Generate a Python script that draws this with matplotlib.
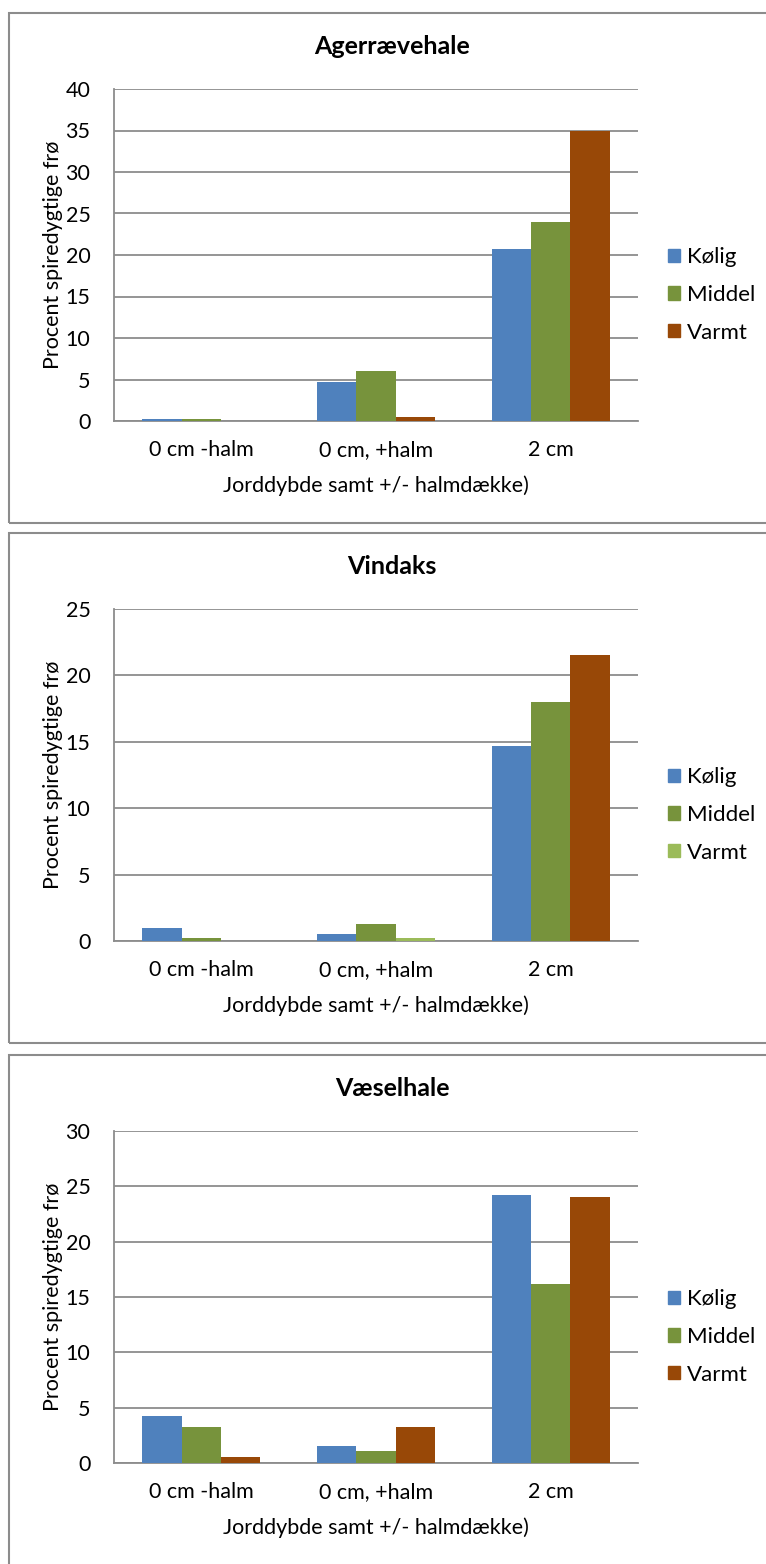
import numpy as np
import matplotlib.pyplot as plt
from matplotlib.patches import Rectangle

plt.rcParams['font.family'] = ['Lato', 'DejaVu Sans']

# Categories and series
categories = ['0 cm -halm', '0 cm, +halm', '2 cm']
series_names = ['Kølig', 'Middel', 'Varmt']
xlabel = 'Jorddybde samt +/- halmdække)'
ylabel = 'Procent spiredygtige frø'

# Agerrævehale
ager_kolig = [0.3, 4.75, 20.7]
ager_middel = [0.25, 6.0, 24.0]
ager_varmt = [0.0, 0.5, 35.0]

# Vindaks
vind_kolig = [1.0, 0.5, 14.7]
vind_middel = [0.25, 1.3, 18.0]
vind_varmt = [0.0, 0.25, 21.5]

# Væselhale
vaes_kolig = [4.25, 1.55, 24.25]
vaes_middel = [3.25, 1.05, 16.2]
vaes_varmt = [0.55, 3.25, 24.0]

BLUE = '#4F81BD'
GREEN = '#77933C'
BROWN = '#984807'
LIGHT_GREEN = '#9BBB59'
GRID = '#8C8C8C'

W, H = 766, 1564
fig = plt.figure(figsize=(W / 100, H / 100), dpi=100)


def px_box(left, top, right, bottom):
    return [left / W, 1 - bottom / H, (right - left) / W, (bottom - top) / H]


def draw_panel(top, title, kolig, middel, varmt, ymax, varmt_colors, varmt_legend):
    # outer chart frame
    fig.patches.append(Rectangle((9 / W, 1 - (top + 510) / H), 800 / W, 510 / H,
                                 transform=fig.transFigure, fill=False,
                                 edgecolor=GRID, linewidth=1.5))
    ax = fig.add_axes(px_box(114, top + 76, 638, top + 408))
    x = np.arange(len(categories))
    w = 0.225
    ax.bar(x - w, kolig, w, color=BLUE, zorder=3)
    ax.bar(x, middel, w, color=GREEN, zorder=3)
    ax.bar(x + w, varmt, w, color=varmt_colors, zorder=3)

    ax.set_xlim(-0.5, 2.5)
    ax.set_ylim(0, ymax)
    ax.set_yticks(np.arange(0, ymax + 1, 5))
    ax.set_xticks(x)
    ax.set_xticklabels(categories)
    ax.tick_params(axis='both', length=0, labelsize=15.5, colors='black')
    ax.tick_params(axis='x', pad=14)
    ax.tick_params(axis='y', pad=17)
    ax.yaxis.grid(True, color=GRID, linewidth=1.3, zorder=0)
    ax.set_axisbelow(True)
    for s in ['top', 'right']:
        ax.spines[s].set_visible(False)
    for s in ['left', 'bottom']:
        ax.spines[s].set_color(GRID)
        ax.spines[s].set_linewidth(1.3)

    ax.set_xlabel(xlabel, fontsize=15.5)
    ax.xaxis.set_label_coords(0.5, -0.163)
    ax.set_ylabel(ylabel, fontsize=15.5)
    ax.yaxis.set_label_coords(-0.098, 0.5)

    fig.text(392 / W, 1 - (top + 34) / H, title, fontsize=18, fontweight='bold',
             ha='center', va='center')

    handles = [Rectangle((0, 0), 1, 1, color=c) for c in (BLUE, GREEN, varmt_legend)]
    ax.legend(handles, series_names, loc='center left', bbox_to_anchor=(1.057, 0.38),
              frameon=False, fontsize=16, handlelength=0.55, handleheight=0.55,
              handletextpad=0.3, labelspacing=0.8, borderaxespad=0, borderpad=0)
    return ax


draw_panel(13, 'Agerrævehale', ager_kolig, ager_middel, ager_varmt, 40,
           BROWN, BROWN)
draw_panel(533, 'Vindaks', vind_kolig, vind_middel, vind_varmt, 25,
           [LIGHT_GREEN, LIGHT_GREEN, BROWN], LIGHT_GREEN)
draw_panel(1055, 'Væselhale', vaes_kolig, vaes_middel, vaes_varmt, 30,
           BROWN, BROWN)

fig.savefig('out.png', dpi=100, facecolor='white')
